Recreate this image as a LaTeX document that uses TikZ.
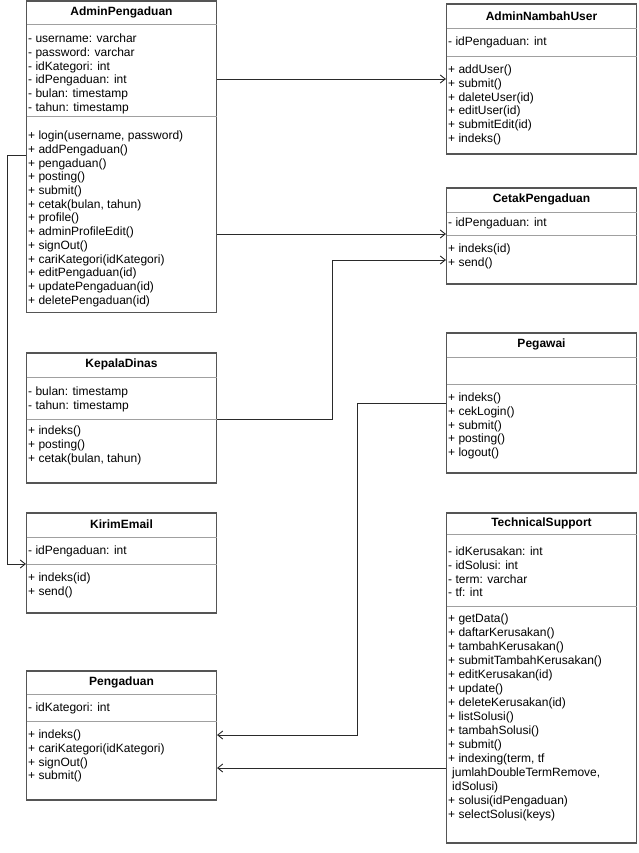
\documentclass[tikz,border=0pt]{standalone}
\usepackage{fontspec}
\setmainfont{Liberation Sans}
\usetikzlibrary{fit,arrows.meta}
\definecolor{boxc}{HTML}{555555}
\definecolor{sepc}{HTML}{A0A0A0}
\definecolor{linec}{HTML}{2A2A2A}
\tikzset{
  cls/.style={draw=boxc, line width=1.1pt, inner sep=0pt, fill=white},
  sepl/.style={draw=sepc, line width=0.9pt},
  ttl/.style={font=\fontsize{12}{13.7}\selectfont\bfseries, inner sep=0pt, anchor=center},
  cmp/.style={font=\fontsize{12}{13.7}\selectfont, inner sep=0pt, anchor=north west, align=left},
  arr/.style={draw=linec, line width=0.9pt, -{Straight Barb[length=5pt,width=8pt,line width=0.9pt]}}
}
\begin{document}
\begin{tikzpicture}[x=1pt,y=-1pt]
\useasboundingbox (0,0) rectangle (638,853);
% AdminPengaduan
\node[cls, fit={(26.5,1) (216.5,312.5)}] (ap) {};
\draw[sepl] (26.5,24) -- (216.5,24) (26.5,116) -- (216.5,116);
\node[ttl] (apt) at (121.5,12.5) {AdminPengaduan};
\node[cmp] (apa) at (28,33) {\strut- username: varchar\\\strut- password: varchar\\\strut- idKategori: int\\\strut- idPengaduan: int\\\strut- bulan: timestamp\\\strut- tahun: timestamp};
\node[cmp] (apm) at (28,130) {\strut+ login(username, password)\\\strut+ addPengaduan()\\\strut+ pengaduan()\\\strut+ posting()\\\strut+ submit()\\\strut+ cetak(bulan, tahun)\\\strut+ profile()\\\strut+ adminProfileEdit()\\\strut+ signOut()\\\strut+ cariKategori(idKategori)\\\strut+ editPengaduan(id)\\\strut+ updatePengaduan(id)\\\strut+ deletePengaduan(id)};
% AdminNambahUser
\node[cls, fit={(446.5,4) (636.5,154)}] (anu) {};
\draw[sepl] (446.5,28) -- (636.5,28) (446.5,56) -- (636.5,56);
\node[ttl] (anut) at (541.5,16) {AdminNambahUser};
\node[cmp] (anua) at (448,36) {\strut- idPengaduan: int};
\node[cmp] (anum) at (448,64) {\strut+ addUser()\\\strut+ submit()\\\strut+ daleteUser(id)\\\strut+ editUser(id)\\\strut+ submitEdit(id)\\\strut+ indeks()};
% CetakPengaduan
\node[cls, fit={(446.5,188) (636.5,284)}] (cp) {};
\draw[sepl] (446.5,212) -- (636.5,212) (446.5,235) -- (636.5,235);
\node[ttl] (cpt) at (541.5,199.5) {CetakPengaduan};
\node[cmp] (cpa) at (448,217) {\strut- idPengaduan: int};
\node[cmp] (cpm) at (448,243) {\strut+ indeks(id)\\\strut+ send()};
% KepalaDinas
\node[cls, fit={(26.5,353) (216.5,483)}] (kd) {};
\draw[sepl] (26.5,377) -- (216.5,377) (26.5,419) -- (216.5,419);
\node[ttl] (kdt) at (121.5,364.5) {KepalaDinas};
\node[cmp] (kda) at (28,386) {\strut- bulan: timestamp\\\strut- tahun: timestamp};
\node[cmp] (kdm) at (28,425) {\strut+ indeks()\\\strut+ posting()\\\strut+ cetak(bulan, tahun)};
% KirimEmail
\node[cls, fit={(26.5,513) (216.5,613)}] (ke) {};
\draw[sepl] (26.5,537) -- (216.5,537) (26.5,564) -- (216.5,564);
\node[ttl] (ket) at (121.5,524.5) {KirimEmail};
\node[cmp] (kea) at (28,545) {\strut- idPengaduan: int};
\node[cmp] (kem) at (28,572) {\strut+ indeks(id)\\\strut+ send()};
% Pengaduan
\node[cls, fit={(26.5,671) (216.5,800)}] (pd) {};
\draw[sepl] (26.5,694) -- (216.5,694) (26.5,721) -- (216.5,721);
\node[ttl] (pdt) at (121.5,682) {Pengaduan};
\node[cmp] (pda) at (28,702) {\strut- idKategori: int};
\node[cmp] (pdm) at (28,729) {\strut+ indeks()\\\strut+ cariKategori(idKategori)\\\strut+ signOut()\\\strut+ submit()};
% Pegawai
\node[cls, fit={(446.5,333) (636.5,473)}] (pg) {};
\draw[sepl] (446.5,357) -- (636.5,357) (446.5,384) -- (636.5,384);
\node[ttl] (pgt) at (541.5,344.5) {Pegawai};
\node[cmp] (pgm) at (448,392) {\strut+ indeks()\\\strut+ cekLogin()\\\strut+ submit()\\\strut+ posting()\\\strut+ logout()};
% TechnicalSupport
\node[cls, fit={(446.5,513) (636.5,843)}] (ts) {};
\draw[sepl] (446.5,534) -- (636.5,534) (446.5,606) -- (636.5,606);
\node[ttl] (tst) at (541.5,523.5) {TechnicalSupport};
\node[cmp] (tsa) at (448,546) {\strut- idKerusakan: int\\\strut- idSolusi: int\\\strut- term: varchar\\\strut- tf: int};
\node[cmp, font=\fontsize{12}{13.95}\selectfont] (tsm) at (448,613) {\strut+ getData()\\\strut+ daftarKerusakan()\\\strut+ tambahKerusakan()\\\strut+ submitTambahKerusakan()\\\strut+ editKerusakan(id)\\\strut+ update()\\\strut+ deleteKerusakan(id)\\\strut+ listSolusi()\\\strut+ tambahSolusi()\\\strut+ submit()\\\strut+ indexing(term, tf\\\strut\hspace*{4pt}jumlahDoubleTermRemove,\\\strut\hspace*{4pt}idSolusi)\\\strut+ solusi(idPengaduan)\\\strut+ selectSolusi(keys)};
% connectors
\coordinate (y1) at (0,79);
\coordinate (y2) at (0,234);
\coordinate (k1) at (7.5,155);
\coordinate (k2) at (7.5,564);
\coordinate (m1) at (332,419);
\coordinate (m2) at (332,260);
\coordinate (p1) at (357.5,403);
\coordinate (p2) at (357.5,735);
\coordinate (y3) at (0,768);
\draw[arr] (ap.east |- y1) -- (anu.west |- y1);
\draw[arr] (ap.east |- y2) -- (cp.west |- y2);
\draw[arr] (ap.west |- k1) -- (k1) -- (k2) -- (ke.west |- k2);
\draw[arr] (kd.east |- m1) -- (m1) -- (m2) -- (cp.west |- m2);
\draw[arr] (pg.west |- p1) -- (p1) -- (p2) -- (pd.east |- p2);
\draw[arr] (ts.west |- y3) -- (pd.east |- y3);
\end{tikzpicture}
\end{document}
